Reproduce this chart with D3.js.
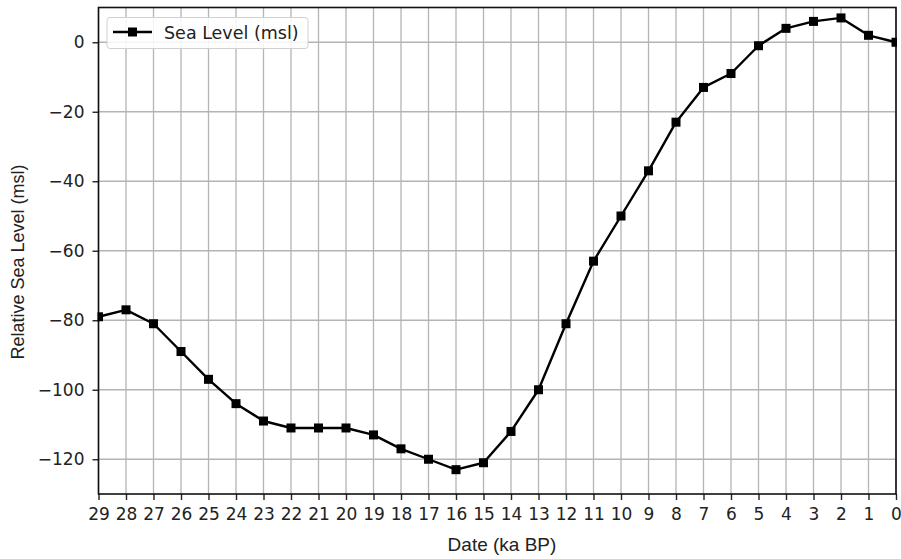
<!DOCTYPE html>
<html><head><meta charset="utf-8">
<script src="https://cdn.jsdelivr.net/npm/d3@7"></script>
<style>body{margin:0;background:#fff}svg{display:block}</style>
</head><body><svg id="c" width="901" height="559"></svg>
<script>
const dates = [29,28,27,26,25,24,23,22,21,20,19,18,17,16,15,14,13,12,11,10,9,8,7,6,5,4,3,2,1,0];
const seaLevel = [-79,-77,-81,-89,-97,-104,-109,-111,-111,-111,-113,-117,-120,-123,-121,-112,-100,-81,-63,-50,-37,-23,-13,-9,-1,4,6,7,2,0];
const xTicks = [29,28,27,26,25,24,23,22,21,20,19,18,17,16,15,14,13,12,11,10,9,8,7,6,5,4,3,2,1,0];
const yTicks = [0,-20,-40,-60,-80,-100,-120];
const seriesName = "Sea Level (msl)";
const xLabel = "Date (ka BP)";
const yLabel = "Relative Sea Level (msl)";

const L=98.5, R=896, T=7.5, B=494;
const svg=d3.select("#c");
const x=d3.scaleLinear().domain([29,0]).range([L,R]);
const y=d3.scaleLinear().domain([-130,10]).range([B,T]);

// grid
const g=svg.append("g");
g.selectAll(".vx").data(xTicks).join("line")
 .attr("x1",d=>x(d)).attr("x2",d=>x(d)).attr("y1",T).attr("y2",B)
 .attr("stroke","#b4b4b4").attr("stroke-width",1.3);
g.selectAll(".hy").data(yTicks).join("line")
 .attr("y1",d=>y(d)).attr("y2",d=>y(d)).attr("x1",L).attr("x2",R)
 .attr("stroke","#b4b4b4").attr("stroke-width",1.3);

// axes
const xa=svg.append("g").attr("transform",`translate(0,${B})`)
 .call(d3.axisBottom(x).tickValues(xTicks).tickSize(6).tickPadding(8).tickFormat(d3.format("d")));
const ya=svg.append("g").attr("transform",`translate(${L},0)`)
 .call(d3.axisLeft(y).tickValues(yTicks).tickSize(6).tickPadding(8).tickFormat(d=>d<0?"\u2212"+Math.abs(d):d));
[xa,ya].forEach(a=>{a.select(".domain").remove();
 a.selectAll("text").attr("font-family","DejaVu Sans").attr("font-size",17).attr("fill","#222");
 a.selectAll("line").attr("stroke","#222").attr("stroke-width",1.4);});

// frame
svg.append("rect").attr("x",L).attr("y",T).attr("width",R-L).attr("height",B-T)
 .attr("fill","none").attr("stroke","#111").attr("stroke-width",1.6);

// line
const line=d3.line().x((d,i)=>x(dates[i])).y(d=>y(d));
svg.append("clipPath").attr("id","cp").append("rect").attr("x",L-1).attr("y",T).attr("width",R-L+2).attr("height",B-T);
const pg=svg.append("g").attr("clip-path","url(#cp)");
pg.append("path").datum(seaLevel).attr("d",line).attr("fill","none").attr("stroke","#000").attr("stroke-width",2.4).attr("stroke-linejoin","round");
pg.selectAll(".m").data(seaLevel).join("rect")
 .attr("x",(d,i)=>x(dates[i])-4.5).attr("y",d=>y(d)-4.5).attr("width",9).attr("height",9).attr("fill","#000");

// legend
const lg=svg.append("g");
lg.append("rect").attr("x",107).attr("y",17.5).attr("width",201).attr("height",31).attr("rx",3)
 .attr("fill","#fff").attr("fill-opacity",0.85).attr("stroke","#d0d0d0").attr("stroke-width",1);
lg.append("line").attr("x1",113).attr("x2",152).attr("y1",32).attr("y2",32).attr("stroke","#000").attr("stroke-width",2.4);
lg.append("rect").attr("x",128).attr("y",27.5).attr("width",9).attr("height",9).attr("fill","#000");
lg.append("text").attr("x",164).attr("y",39).attr("font-family","DejaVu Sans").attr("font-size",17.5).attr("fill","#222").text(seriesName);

// axis labels
svg.append("text").attr("x",502).attr("y",551).attr("text-anchor","middle")
 .attr("font-family","Liberation Sans").attr("font-size",19).attr("fill","#222").text(xLabel);
svg.append("text").attr("transform",`translate(24,262) rotate(-90)`).attr("text-anchor","middle")
 .attr("font-family","Liberation Sans").attr("font-size",18).attr("fill","#222").text(yLabel);
</script></body></html>
